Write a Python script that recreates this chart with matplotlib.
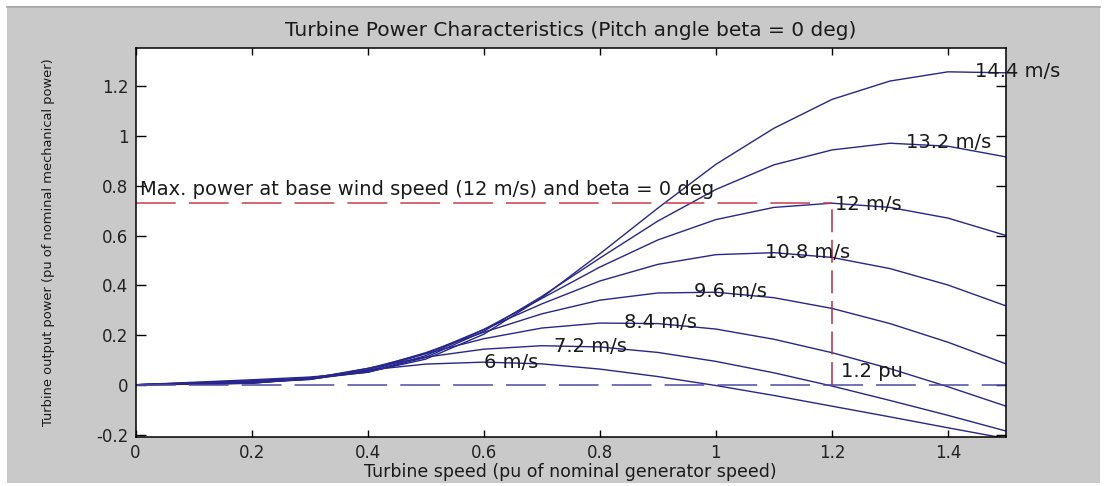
import matplotlib
matplotlib.use('Agg')
import matplotlib.pyplot as plt
from matplotlib.patches import Rectangle
from matplotlib.lines import Line2D

# ---------------- data ----------------
speed = [0.0, 0.1, 0.2, 0.3, 0.4, 0.5, 0.6, 0.7, 0.8, 0.9, 1.0, 1.1, 1.2, 1.3, 1.4, 1.5]

power_6_0 = [0, 0.002, 0.006, 0.028, 0.059, 0.083, 0.091, 0.084, 0.063, 0.033, -0.003, -0.043, -0.086, -0.129, -0.173, -0.216]
power_7_2 = [0, 0.003, 0.006, 0.025, 0.066, 0.111, 0.143, 0.157, 0.152, 0.130, 0.094, 0.048, -0.005, -0.063, -0.123, -0.186]
power_8_4 = [0, 0.003, 0.007, 0.023, 0.065, 0.125, 0.185, 0.228, 0.248, 0.246, 0.224, 0.183, 0.129, 0.065, -0.008, -0.086]
power_9_6 = [0, 0.004, 0.009, 0.021, 0.060, 0.129, 0.211, 0.285, 0.340, 0.369, 0.372, 0.350, 0.307, 0.246, 0.171, 0.084]
power_10_8 = [0, 0.006, 0.011, 0.022, 0.055, 0.125, 0.222, 0.325, 0.417, 0.484, 0.523, 0.531, 0.512, 0.467, 0.401, 0.317]
power_12_0 = [0, 0.007, 0.014, 0.023, 0.051, 0.117, 0.222, 0.347, 0.473, 0.582, 0.664, 0.713, 0.730, 0.713, 0.670, 0.600]
power_13_2 = [0, 0.008, 0.017, 0.027, 0.050, 0.110, 0.215, 0.355, 0.509, 0.658, 0.785, 0.884, 0.944, 0.971, 0.959, 0.916]
power_14_4 = [0, 0.010, 0.020, 0.031, 0.051, 0.103, 0.203, 0.350, 0.526, 0.710, 0.886, 1.031, 1.147, 1.221, 1.258, 1.254]

wind_labels = ['6 m/s', '7.2 m/s', '8.4 m/s', '9.6 m/s', '10.8 m/s', '12 m/s', '13.2 m/s', '14.4 m/s']
label_x = [0.601, 0.721, 0.841, 0.962, 1.085, 1.206, 1.328, 1.446]
label_y = [0.088, 0.153, 0.249, 0.374, 0.531, 0.724, 0.973, 1.258]

max_power = 0.73      # pu at base wind speed
base_speed = 1.2      # pu turbine speed at max power
x_ticks = [0, 0.2, 0.4, 0.6, 0.8, 1, 1.2, 1.4]
x_tick_labels = ['0', '0.2', '0.4', '0.6', '0.8', '1', '1.2', '1.4']
y_ticks = [-0.2, 0, 0.2, 0.4, 0.6, 0.8, 1, 1.2]
y_tick_labels = ['-0.2', '0', '0.2', '0.4', '0.6', '0.8', '1', '1.2']

title = 'Turbine Power Characteristics (Pitch angle beta = 0 deg)'
xlabel = 'Turbine speed (pu of nominal generator speed)'
ylabel = 'Turbine output power (pu of nominal mechanical power)'
max_text = 'Max. power at base wind speed (12 m/s) and beta = 0 deg'
pu_text = '1.2 pu'

# ---------------- figure ----------------
plt.rcParams['font.family'] = ['DejaVu Sans']
W, H = 1110, 486
fig = plt.figure(figsize=(W / 100, H / 100), dpi=100, facecolor='white')

fig.patches.append(Rectangle((7 / W, 3 / H), (1100 - 7) / W, (478 - 3) / H,
                             transform=fig.transFigure, facecolor='#c9c9c9',
                             edgecolor='none', zorder=-10))
fig.lines.append(Line2D([7 / W, 1100 / W], [478.5 / H, 478.5 / H],
                        transform=fig.transFigure, color='#9c9c9c', lw=1.2))

ax_left, ax_right, ax_top, ax_bottom = 135.5, 1006, 47.7, 437
ax = fig.add_axes([ax_left / W, 1 - ax_bottom / H, (ax_right - ax_left) / W,
                   (ax_bottom - ax_top) / H])
ax.set_facecolor('white')

line_color = '#26268c'
series = [power_6_0, power_7_2, power_8_4, power_9_6, power_10_8, power_12_0, power_13_2, power_14_4]
for p in series:
    ax.plot(speed, p, color=line_color, lw=1.0, solid_joinstyle='round')

# zero line (blue dashed)
ax.plot([0, 1.5], [0, 0], color='#4a4aa6', lw=1.1, linestyle=(0, (26, 8.6)))
# max-power guide lines (red dashed)
ax.plot([0, base_speed], [max_power, max_power], color='#cc3a4a', lw=1.1,
        linestyle=(0, (26, 8.6)))
ax.plot([base_speed, base_speed], [0, max_power], color='#b82a44', lw=1.1,
        linestyle=(0, (15, 5)))

txt_color = '#1a1a1a'
fs = 14
for lx, ly, lab in zip(label_x, label_y, wind_labels):
    ax.text(lx, ly, lab, ha='left', va='center', fontsize=fs, color=txt_color)
ax.text(0.008, 0.784, max_text, ha='left', va='center', fontsize=fs, color=txt_color)
ax.text(1.216, 0.052, pu_text, ha='left', va='center', fontsize=fs, color=txt_color)

ax.set_xlim(0, 1.5)
ax.set_ylim(-0.21, 1.355)
ax.set_xticks(x_ticks)
ax.set_xticklabels(x_tick_labels)
ax.set_yticks(y_ticks)
ax.set_yticklabels(y_tick_labels)
ax.tick_params(axis='both', direction='in', top=True, right=True,
               labelsize=12, labelcolor='#222222', color='black', width=1.0)
ax.tick_params(axis='x', length=5, pad=5.2)
ax.tick_params(axis='y', length=7, pad=5)
for s in ax.spines.values():
    s.set_color('black')
    s.set_linewidth(1.1)

fig.text((ax_left + ax_right) / 2 / W, 1 - 36 / H, title, ha='center',
         va='baseline', fontsize=14.5, color=txt_color)
fig.text((ax_left + ax_right) / 2 / W, 1 - 476.5 / H, xlabel, ha='center',
         va='baseline', fontsize=12.5, color=txt_color)
fig.text(49 / W, 1 - 242 / H, ylabel, ha='center', va='center', rotation=90,
         fontsize=9.4, color=txt_color)

fig.savefig('out.png', dpi=100, facecolor=fig.get_facecolor())
